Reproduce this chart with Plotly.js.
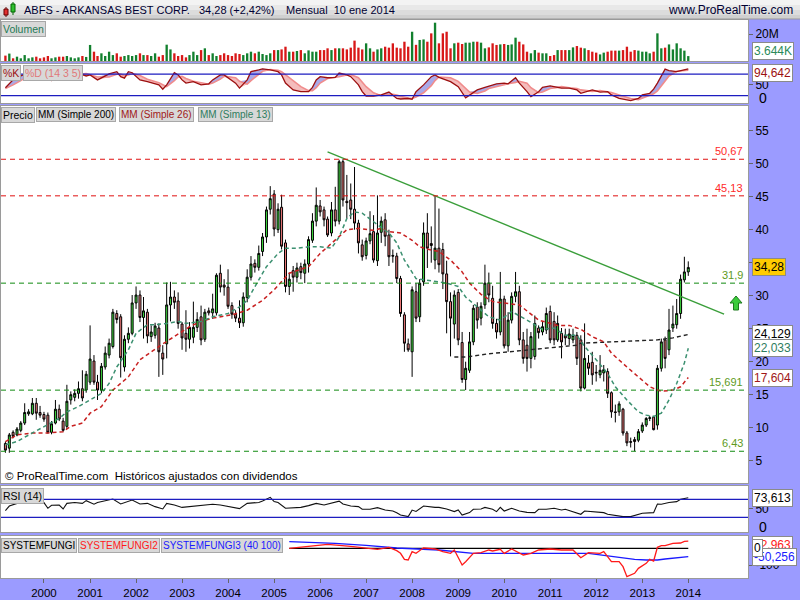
<!DOCTYPE html>
<html><head><meta charset="utf-8">
<script src="https://cdn.plot.ly/plotly-3.0.1.min.js"></script>
<style>html,body{margin:0;padding:0;background:#fff}#chart{width:800px;height:600px}</style>
</head><body><div id="chart"></div>
<script>
// ---------- DATA ----------
const firstYear = 1999, firstMonth = 3;   // first monthly bar: March 1999
const openP = [7.6,6.9,9.3,8.9,9.6,10.7,12.1,12.1,13.7,12.3,
12.0,11.9,9.3,10.7,12.8,11.0,10.2,14.2,14.6,15.2,15.9,15.7,
16.9,20.1,16.9,15.7,19.2,21.0,22.3,27.3,26.8,19.2,23.4,24.3,
28.9,30.1,26.7,27.5,23.8,24.0,25.1,21.3,22.7,28.6,29.8,29.2,
25.7,24.3,23.4,23.7,25.2,26.8,23.4,27.7,27.4,27.4,33.4,31.6,
31.3,28.5,27.2,26.6,25.9,29.7,32.8,34.9,34.3,36.7,38.9,43.1,
45.4,40.0,43.4,38.0,31.4,33.8,32.8,34.4,33.4,34.8,38.4,41.3,
43.6,43.0,41.6,39.5,43.0,41.3,50.3,44.3,44.5,43.1,41.0,37.7,
36.1,38.3,39.7,35.3,39.6,41.5,39.2,36.1,36.0,32.6,27.1,22.7,
21.5,30.6,26.8,32.1,39.5,37.9,35.4,37.2,37.0,33.3,29.1,25.7,
30.5,22.9,17.3,18.7,23.0,28.3,26.6,28.6,31.9,29.6,25.8,24.5,
29.5,22.4,26.3,29.9,30.6,23.3,22.5,20.5,20.8,25.1,24.5,24.8,
27.6,26.1,23.3,24.3,24.0,23.5,23.3,24.0,23.3,16.0,19.8,19.9,
18.4,18.0,18.3,18.5,15.3,12.4,12.4,12.8,9.2,7.9,8.2,8.1,
9.5,10.4,11.4,11.6,10.4,19.0,23.3,21.8,25.1,25.6,27.3,32.4,
33.6];
const highP = [7.9,9.2,9.6,10.1,11.0,13.7,12.8,14.5,14.5,13.3,
12.4,12.3,11.0,14.2,13.5,11.5,16.5,15.5,15.8,17.0,18.7,18.6,
25.5,21.0,18.0,19.8,22.3,23.5,28.0,27.8,27.2,24.0,25.2,30.1,
31.4,30.8,29.8,28.0,25.5,25.9,25.8,22.5,32.0,32.1,30.8,30.5,
26.0,27.8,26.0,29.1,27.5,28.5,28.0,28.2,30.3,33.4,34.7,32.5,
34.0,29.0,27.8,29.3,30.5,34.0,36.0,35.5,37.6,39.5,43.5,46.6,
46.0,44.0,45.3,38.5,33.5,34.5,35.0,35.0,35.5,39.0,42.5,46.4,
44.5,43.5,42.0,44.2,46.5,50.6,50.67,48.3,47.0,49.5,41.5,38.5,
38.8,42.8,42.2,45.2,42.0,42.5,40.0,37.0,36.5,33.0,27.5,23.5,
31.4,31.9,32.5,41.1,42.5,40.5,45.13,43.2,38.0,35.3,30.5,30.8,
31.0,24.5,20.0,24.5,28.6,29.0,29.0,34.7,33.5,31.5,26.5,33.6,
30.0,27.5,30.5,33.6,31.5,24.5,25.0,24.5,27.0,25.5,26.0,28.2,
28.5,27.5,27.0,25.1,25.0,25.0,25.0,24.5,24.0,25.8,21.0,21.5,
19.5,21.0,19.5,19.0,15.5,13.5,14.0,13.0,9.5,8.5,8.6,9.8,
10.8,11.6,11.8,11.8,19.5,23.5,23.8,28.0,28.5,29.5,33.2,35.9,
35.2];
const lowP = [6.2,6.2,8.4,8.7,9.3,10.4,11.8,11.9,11.2,11.5,
10.9,9.1,9.0,10.5,11.0,9.4,9.8,13.5,14.0,14.4,14.0,15.3,
16.5,16.5,14.2,15.2,18.8,20.5,22.0,25.8,17.6,18.5,22.8,24.0,
28.0,26.0,23.5,22.8,23.0,23.5,17.7,18.0,20.5,26.1,28.0,25.0,
21.8,21.5,22.0,22.8,24.5,22.5,23.0,27.0,26.5,27.0,30.5,30.0,
28.0,26.5,26.0,25.1,25.3,29.0,32.3,33.5,33.8,36.0,38.0,42.3,
39.0,39.5,37.0,30.5,30.1,30.6,32.0,32.5,31.9,33.5,38.0,40.5,
42.0,40.5,38.9,39.0,40.5,40.8,43.5,41.7,41.6,40.0,36.4,35.3,
35.5,37.8,35.0,34.5,38.0,37.5,34.5,35.0,31.9,26.8,21.5,21.5,
17.7,26.0,26.0,31.5,34.2,35.0,34.0,33.5,31.0,24.3,20.8,23.5,
22.5,16.8,15.7,18.3,22.5,25.0,25.5,28.0,29.0,25.0,23.5,24.0,
22.0,21.5,25.8,29.0,22.5,19.7,18.5,19.0,20.3,23.5,24.0,24.2,
22.8,22.5,23.0,20.5,22.5,22.5,22.8,19.5,15.5,15.8,18.0,16.5,
17.0,17.5,17.0,14.5,11.5,10.8,11.8,8.8,7.2,7.0,6.43,7.8,
9.2,10.1,11.0,9.6,9.7,18.5,19.0,21.0,24.5,25.0,26.5,32.0,
33.0];
const closeP = [6.6,8.9,8.7,9.8,10.7,12.3,12.4,13.7,12.2,11.9,
11.3,9.3,10.6,12.8,11.3,9.6,14.0,15.0,15.2,15.9,14.5,18.1,
20.4,16.9,15.7,19.3,21.3,22.8,27.5,26.4,20.6,23.4,24.3,28.9,
30.1,26.7,27.7,23.9,24.5,25.4,21.5,20.4,28.6,29.8,29.0,25.8,
23.6,23.4,25.2,25.2,26.4,23.3,27.5,27.4,28.0,33.1,31.3,31.3,
28.4,27.2,26.6,25.9,29.8,32.8,34.8,34.3,36.4,38.9,43.0,44.7,
40.1,43.1,37.5,31.4,32.5,32.8,34.2,33.5,34.8,38.5,41.3,43.7,
42.7,41.5,39.2,43.0,41.3,50.3,44.5,44.1,43.1,41.0,38.0,35.9,
38.3,39.4,35.4,39.5,41.3,39.0,35.9,36.0,32.6,27.3,22.8,21.8,
30.9,26.6,31.9,39.5,37.2,37.6,37.2,34.7,33.3,29.1,26.6,30.1,
23.3,17.3,19.0,23.0,28.1,26.3,28.4,31.9,30.1,25.8,24.5,29.5,
22.4,26.3,29.9,30.6,23.3,20.5,20.5,23.8,25.8,24.4,25.3,27.3,
23.3,23.3,25.8,23.0,23.6,24.2,24.0,20.5,16.0,20.5,19.0,18.0,
18.3,18.7,18.8,15.2,12.4,12.3,13.6,9.2,7.7,7.8,7.9,9.4,
10.4,11.4,11.5,9.7,19.0,23.0,20.5,24.8,25.7,27.3,32.5,33.6,
34.28];
// volume in millions
const volume = [4.0,5.5,2.0,3.2,2.0,4.4,2.0,2.7,3.2,2.0,
2.7,3.7,2.0,2.7,3.2,3.2,3.7,2.7,2.0,2.7,
3.7,3.0,11.9,6.9,3.7,5.7,3.7,6.9,4.4,5.7,
3.2,3.7,4.4,3.7,4.4,5.7,4.4,4.4,3.7,5.7,
3.2,4.4,12.1,8.6,5.7,3.7,4.4,2.7,4.4,6.9,
4.4,8.1,9.4,4.4,5.7,3.7,4.4,5.7,4.4,3.7,
5.7,5.2,4.4,5.7,6.9,5.7,6.9,5.2,4.4,5.7,
8.1,8.1,8.6,10.6,6.9,6.9,7.4,8.1,5.7,7.9,
6.9,6.9,8.1,8.1,9.4,8.1,9.4,9.4,9.4,8.6,
9.9,15.1,9.9,8.6,13.1,9.4,6.9,8.6,9.4,10.6,
9.9,13.1,9.9,9.4,
14.3,10.6,21.7,12.0,15.6,16.0,14.3,20.5,28.4,13.1,
20.5,21.7,9.4,13.1,13.6,12.6,13.6,13.6,14.3,14.3,
13.6,9.4,10.1,13.1,11.9,12.3,12.6,11.9,12.3,17.3,
14.3,12.3,6.9,5.7,8.1,6.2,5.7,5.7,3.7,4.4,
8.1,8.1,8.1,8.1,10.1,11.1,9.9,9.4,8.1,6.9,
6.2,4.9,6.2,6.9,7.7,7.7,7.7,8.1,10.6,6.9,
8.1,7.7,6.9,6.9,5.7,6.9,20.5,9.4,9.9,12.3,
8.6,13.1,9.4,7.7,3.644];

// indicator readings: bar index -> value
const stochIdx = [0,1,2,4,6,9,12,15,18,21,22,24,27,29,30,31,32,33,35,37,40,41,42,44,45,46,47,49,51,53,54,56,57,60,61,63,64,66,67,69,71,72,73,75,77,79,80,81,82,84,86,87,89,90,92,93,94,96,98,100,101,102,103,105,106,107,109,111,112,113,116,118,120,121,123,125,126,128,130,131,133,134,136,137,139,140,142,145,147,149,150,152,153,155,157,158,160,163,165,166,168,169,170,172,173,175,177,178];
const stochK = [42,52,64,75,84,80,62,72,86,75,78,64,81,87,73,69,87,84,64,59,50,38,50,84,78,64,55,59,50,53,64,78,78,55,41,64,87,92,95,92,87,78,55,36,31,31,43,64,73,70,71,83,78,73,50,31,19,19,22,30,22,12,10.6,12,10,31,50,73,78,71,59,45,14,22,36,43,47,53,55,53,70,55,31,17,31,43,47,41,41,36,26.5,33,36,30,31,22,12.5,6,12,22,26.5,38,55,94,90,87,92,94.642];
const stochD = [40,44,50,62,75,82,70,66,78,82,79,72,72,80,80,76,78,82,76,66,56,50,45,62,72,74,68,60,56,52,55,66,74,70,60,52,62,80,88,93,91,87,78,62,45,34,34,42,55,68,70,73,78,79,70,58,45,28,20,23,24,22,18,13,12,16,28,48,62,72,70,60,42,30,26,33,40,46,51,53,57,60,55,42,28,30,40,45,42,40,36,32,32,34,32,29,22,12,9,13,20,25,33,60,75,88,90,91];
const rsiIdx = [0,1,3,5,7,8,10,11,12,14,15,16,18,20,21,23,24,26,28,30,31,33,35,37,39,41,42,44,46,48,51,53,54,56,58,61,63,66,67,69,70,71,73,75,77,79,81,83,85,87,88,90,92,93,95,97,99,101,102,103,105,106,107,109,112,113,115,117,118,119,121,122,124,125,127,128,129,130,132,134,136,138,139,141,143,145,146,148,150,151,154,156,157,159,161,163,164,166,169,170,171,173,175,176,178];
const rsiVal = [45,55,61,65,67,64,62.6,50,56.7,57,48.5,61,63,61,67,59,63,66,70.7,59.6,62,68.5,59.6,61,53.7,48.5,61,57.4,52,53.7,55,58,59,57.4,53.7,49.3,61,63,66,74.4,65,63,50,51.5,52,56,61,57.4,61,66,59.6,55,53.7,47.8,47.8,51.5,46.3,44,40,35,31.5,46,43,55,52,52,48.5,42.6,46.3,35,40.4,47.8,48.5,52,47.8,42.6,52,44,50,44,41,40.4,47.8,47.8,50,46.3,47.8,42.6,36.7,44,42.6,40.4,36.7,34.4,31.5,31.5,33.7,38.9,40.4,59.6,59,63,64.8,70,73.613];
const ma13Idx = [0,3,7,11,14,16,19,22,25,27,29,32,34,37,39,42,45,47,51,54,58,61,63,66,68,71,73,76,79,82,85,87,89,91,93,96,100,102,104,107,109,112,115,118,120,123,126,129,132,136,138,140,143,146,149,151,154,157,159,162,165,167,169,171,173,175,177,178];
const ma13Val = [7.4,7.9,9.2,10.4,11.4,12.4,13.2,14.2,15.2,16.7,19.2,21.8,24.3,25.6,25.6,25.8,26.1,25.8,26.1,26.8,27.3,28.3,29.3,32.4,34.4,36.4,37.2,37.2,37.4,37.4,37.2,38.9,41.7,42.7,42.5,41.2,39.5,38.0,35.4,32.6,32.4,32.1,31.9,31.4,29.8,28.3,26.8,26.3,27.6,26.3,25.6,24.9,25.1,24.0,24.0,22.3,20.3,18.2,16.2,14.2,12.4,11.9,11.7,12.2,14.2,16.7,19.8,22.033];
const ma26Idx = [0,3,7,11,15,17,20,22,25,28,32,35,40,44,48,51,54,59,63,67,70,74,79,82,86,89,92,96,98,100,103,106,108,111,113,116,119,121,124,127,134,139,144,147,150,153,156,158,162,165,168,171,174,176,178];
const ma26Val = [7.9,8.9,9.2,9.2,9.4,10.2,10.7,12.2,13.2,15.7,17.7,20.3,22.3,23.8,25.3,26.1,26.6,27.1,27.8,29.3,30.9,33.4,34.4,36.4,38.4,40.0,40.2,39.9,40.2,39.7,39.5,38.4,37.4,36.9,36.7,35.4,33.6,31.9,30.2,29.1,28.6,26.3,25.5,25.5,24.9,23.8,23.0,21.3,19.2,17.7,16.2,15.5,15.7,16.2,17.604];
const ma200Idx = [117,120,126,135,146,149,150,160,170,174,178];
const ma200Val = [20.7,20.7,21.2,21.7,22.4,22.5,22.8,23.0,23.3,23.6,24.129];
const sfRedIdx = [74,77,80,84,90,94,97,100,102,103,104,105,106,107,109,112,114,116,117,119,120,122,124,126,127,129,130,132,135,137,139,142,145,148,150,152,155,156,158,160,161,162,164,165,167,168,169,170,171,172,174,176,177,178];
const sfRedVal = [0,8,18,24,12,2,-6,6,-14,-30,-66,-70,-20,-30,3,-4,-20,-30,-10,-100,-80,-30,-26,-10,-16,-6,-30,-4,-40,-30,-10,-4,-10,-10,-56,-26,-30,-20,-80,-80,-110,-170,-150,-120,-90,-66,-76,6,16,16,30,32,42,42.963];
const sfBlueIdx = [74,86,94,102,113,118,122,152,155,160,164,167,170,172,176,178];
const sfBlueVal = [40,30,18,2,-10,-20,-30,-30,-40,-54,-66,-70,-70,-64,-56,-50.256];
const sfBlackIdx = [74,178];
const sfBlackVal = [0,0];
const trendDates = ['2006-03-01','2014-10-12'];
const trendVals = [51.8,27.2];
const levels = [50.67,45.13,31.9,15.691,6.43];
const levelText = ['50,67','45,13','31,9','15,691','6,43'];
const levelKind = ['res','res','sup','sup','sup'];
const yearTicks = ['2000','2001','2002','2003','2004','2005','2006','2007','2008','2009','2010','2011','2012','2013','2014'];
const priceTicks = [5,10,15,20,25,30,35,40,45,50,55];

// ---------- helpers ----------
const months = closeP.map((_, k) => {
  const m = firstMonth - 1 + k;
  const y = firstYear + Math.floor(m / 12);
  return y + '-' + String(m % 12 + 1).padStart(2, '0') + '-01';
});
const at = idx => idx.map(i => months[i]);
const W = 800, H = 600;
const px = x => x / W, py = y => 1 - y / H;
const fmt = (v, d) => v.toFixed(d).replace('.', ',');
const FONT = 'Liberation Sans, Arial, sans-serif';
const GREEN_UP = '#3fdc3f', RED_DN = '#f07a7a';
const up = closeP.map((c, i) => c >= openP[i]);

const traces = [];
// volume
traces.push({type:'bar', x: months, y: volume, xaxis:'x', yaxis:'y', width: 1.6e9,
  marker:{color: up.map(u => u ? '#12802e' : '#d81818'), line:{width:0}}, hoverinfo:'skip'});
// stochastic with two-colour fill between %K and %D
const stX = at(stochIdx);
const kHi = stochK.map((k, i) => Math.max(k, stochD[i]));
const kLo = stochK.map((k, i) => Math.min(k, stochD[i]));
traces.push({type:'scatter', mode:'lines', x: stX, y: stochD, xaxis:'x2', yaxis:'y2', line:{width:0}, hoverinfo:'skip'});
traces.push({type:'scatter', mode:'lines', x: stX, y: kHi, xaxis:'x2', yaxis:'y2', line:{width:0}, fill:'tonexty', fillcolor:'rgba(140,140,225,0.75)', hoverinfo:'skip'});
traces.push({type:'scatter', mode:'lines', x: stX, y: stochD, xaxis:'x2', yaxis:'y2', line:{width:0}, hoverinfo:'skip'});
traces.push({type:'scatter', mode:'lines', x: stX, y: kLo, xaxis:'x2', yaxis:'y2', line:{width:0}, fill:'tonexty', fillcolor:'rgba(240,165,165,0.75)', hoverinfo:'skip'});
traces.push({type:'scatter', mode:'lines', x: stX, y: stochD, xaxis:'x2', yaxis:'y2', line:{color:'#f08c8c', width:1.6}, hoverinfo:'skip'});
traces.push({type:'scatter', mode:'lines', x: stX, y: stochK, xaxis:'x2', yaxis:'y2', line:{color:'#9c1010', width:1.3}, hoverinfo:'skip'});
// price
traces.push({type:'candlestick', x: months, open: openP, high: highP, low: lowP, close: closeP,
  xaxis:'x3', yaxis:'y3', whiskerwidth:0,
  increasing:{line:{color:'#000', width:1}, fillcolor: GREEN_UP},
  decreasing:{line:{color:'#000', width:1}, fillcolor: RED_DN}, hoverinfo:'skip'});
traces.push({type:'scatter', mode:'lines', x: at(ma200Idx), y: ma200Val, xaxis:'x3', yaxis:'y3', line:{color:'#222', width:1.4, dash:'4px,3px'}, hoverinfo:'skip'});
traces.push({type:'scatter', mode:'lines', x: at(ma26Idx), y: ma26Val, xaxis:'x3', yaxis:'y3', line:{color:'#c82020', width:1.5, dash:'4px,3px'}, hoverinfo:'skip'});
traces.push({type:'scatter', mode:'lines', x: at(ma13Idx), y: ma13Val, xaxis:'x3', yaxis:'y3', line:{color:'#3b9070', width:1.5, dash:'4px,3px'}, hoverinfo:'skip'});
traces.push({type:'scatter', mode:'lines', x: trendDates, y: trendVals, xaxis:'x3', yaxis:'y3', line:{color:'#3a9e3a', width:1.4}, hoverinfo:'skip'});
// RSI
traces.push({type:'scatter', mode:'lines', x: at(rsiIdx), y: rsiVal, xaxis:'x4', yaxis:'y4', line:{color:'#111', width:1.1}, hoverinfo:'skip'});
// SYSTEMFUNGI
traces.push({type:'scatter', mode:'lines', x: at(sfBlackIdx), y: sfBlackVal, xaxis:'x5', yaxis:'y5', line:{color:'#000', width:1.3}, hoverinfo:'skip'});
traces.push({type:'scatter', mode:'lines', x: at(sfBlueIdx), y: sfBlueVal, xaxis:'x5', yaxis:'y5', line:{color:'#1a1aff', width:1.3}, hoverinfo:'skip'});
traces.push({type:'scatter', mode:'lines', x: at(sfRedIdx), y: sfRedVal, xaxis:'x5', yaxis:'y5', line:{color:'#ff1a1a', width:1.3}, hoverinfo:'skip'});

// ---------- layout ----------
const xRange = ['1999-01-25', '2015-04-20'];
const xDom = [px(1), px(748)];
const baseX = (anchor, extra) => Object.assign({type:'date', domain: xDom, range: xRange, anchor,
  showgrid:false, zeroline:false, showline:true, mirror:true, linecolor:'#9a9a9a', linewidth:1,
  showticklabels:false, ticks:''}, extra || {});
const baseY = (anchor, dom, range, tickvals, ticktext) => ({domain: dom, range, anchor, side:'right',
  showgrid:false, zeroline:false, showline:true, mirror:true, linecolor:'#9a9a9a', linewidth:1,
  tickvals, ticktext, ticks:'outside', ticklen:4, tickcolor:'#666',
  tickfont:{family: FONT, size:12, color:'#000'}});

const shapes = [];
// header gradient
const hdr = ['#f3f3f3','#e8e8e8','#dcdcdc','#d0d0d0'];
hdr.forEach((c, k) => shapes.push({type:'rect', xref:'paper', yref:'paper', x0:0, x1:1, y0:py(k*5), y1:py(Math.min(19,(k+1)*5)), fillcolor:c, line:{width:0}}));
shapes.push({type:'line', xref:'paper', yref:'paper', x0:0, x1:1, y0:py(19), y1:py(19), line:{color:'#999', width:1}});
// header candle icon
shapes.push({type:'line', xref:'paper', yref:'paper', x0:px(6), x1:px(6), y0:py(7), y1:py(17), line:{color:'#600', width:1}});
shapes.push({type:'rect', xref:'paper', yref:'paper', x0:px(4), x1:px(8), y0:py(9), y1:py(15), fillcolor:'#e03030', line:{color:'#600', width:1}});
shapes.push({type:'line', xref:'paper', yref:'paper', x0:px(13), x1:px(13), y0:py(2), y1:py(15), line:{color:'#060', width:1}});
shapes.push({type:'rect', xref:'paper', yref:'paper', x0:px(11), x1:px(15), y0:py(4), y1:py(12), fillcolor:'#30c030', line:{color:'#060', width:1}});
// support / resistance levels
levels.forEach((lv, i) => shapes.push({type:'line', xref:'x3 domain', yref:'y3', x0:0, x1:1, y0:lv, y1:lv,
  line:{color: levelKind[i] === 'res' ? '#e01010' : '#108a10', width:1, dash:'5px,4px'}}));
// oscillator bands
[80, 20].forEach(v => shapes.push({type:'line', xref:'x2 domain', yref:'y2', x0:0, x1:1, y0:v, y1:v, line:{color:'#1c1cc0', width:1.2}}));
[70, 30].forEach(v => shapes.push({type:'line', xref:'x4 domain', yref:'y4', x0:0, x1:1, y0:v, y1:v, line:{color:'#1c1cc0', width:1.2}}));
// green up arrow
const arrowPts = [[736,296],[730,303],[733.5,303],[733.5,310],[738.5,310],[738.5,303],[742,303]];
shapes.push({type:'path', xref:'paper', yref:'paper',
  path: 'M ' + arrowPts.map(p => px(p[0]) + ' ' + py(p[1])).join(' L ') + ' Z',
  fillcolor:'#3ccc3c', line:{color:'#1f7a1f', width:1}});

const ann = [];
const txt = (text, x, y, o) => ann.push(Object.assign({text, x: px(x), y: py(y), xref:'paper', yref:'paper',
  showarrow:false, xanchor:'left', yanchor:'middle', font:{family: FONT, size:11, color:'#000'}}, o || {}));
// header texts
txt('ABFS - ARKANSAS BEST CORP.', 22, 10, {font:{family:FONT, size:11, color:'#000033'}});
txt(fmt(closeP[closeP.length-1], 2) + ' (+2,42%)', 197, 10, {font:{family:FONT, size:11, color:'#000033'}});
txt('Mensual  10 ene 2014', 284, 10, {font:{family:FONT, size:11, color:'#000033'}});
txt('www.ProRealTime.com', 795, 10, {xanchor:'right', font:{family:FONT, size:12, color:'#000033'}});
// panel label boxes
const lab = (text, x, y, size, color) => txt(text, x, y, {yanchor:'top',
  bgcolor:'#d8d8d8', bordercolor:'#a8a8a8', borderwidth:1, borderpad:1, font:{family:FONT, size, color}});
lab('Volumen', 1, 21, 10.5, '#1f7a55');
lab('%K', 1, 65, 10.5, '#9c1010');
lab('%D (14 3 5)', 23, 65, 10.5, '#e07878');
lab('Precio', 1, 107, 10.5, '#000');
lab('MM (Simple 200)', 36, 107, 10, '#000');
lab('MM (Simple 26)', 119, 107, 10, '#a01818');
lab('MM (Simple 13)', 198, 107, 10, '#2e7d5e');
lab('RSI (14)', 1, 488, 10.5, '#000');
lab('SYSTEMFUNGI', 1, 538, 10, '#000');
lab('SYSTEMFUNGI2', 78, 538, 10, '#ff1a1a');
lab('SYSTEMFUNGI3 (40 100)', 161, 538, 10, '#1a1aff');
txt('© ProRealTime.com  Históricos ajustados con dividendos', 3, 476, {font:{family:FONT, size:11.5, color:'#000'}});
// level labels
levels.forEach((lv, i) => ann.push({text: levelText[i], xref:'paper', x: px(745), xanchor:'right',
  yref:'y3', y: lv, yanchor:'bottom', showarrow:false,
  font:{family:FONT, size:11, color: levelKind[i] === 'res' ? '#ff2a2a' : '#5e9a22'}}));
// right-hand value boxes
const vbox = (text, y, color, bg, yref) => ann.push({text, xref:'paper', x: px(752), xanchor:'left',
  yref: yref || 'paper', y, yanchor:'middle', showarrow:false, bgcolor: bg || '#fff', bordercolor:'#8a8a8a',
  borderwidth:1, borderpad:1, font:{family:FONT, size:12, color}});
vbox(fmt(volume[volume.length-1], 3).replace(',', '.') + 'K', py(51), '#2a8a5a');
vbox(fmt(stochK[stochK.length-1], 3), py(73), '#9c1010');
txt('0', 757, 98, {font:{family:FONT, size:14, color:'#000'}});
vbox(fmt(closeP[closeP.length-1], 2), closeP[closeP.length-1], '#000', '#ffcc00', 'y3');
vbox(fmt(ma200Val[ma200Val.length-1], 3), ma200Val[ma200Val.length-1], '#000', '#fff', 'y3');
vbox(fmt(ma13Val[ma13Val.length-1], 3), ma13Val[ma13Val.length-1], '#2e7d5e', '#fff', 'y3');
vbox(fmt(ma26Val[ma26Val.length-1], 3), ma26Val[ma26Val.length-1], '#a01818', '#fff', 'y3');
vbox(fmt(rsiVal[rsiVal.length-1], 3), rsiVal[rsiVal.length-1], '#000', '#fff', 'y4');
txt('0', 757, 527, {font:{family:FONT, size:14, color:'#000'}});
vbox(fmt(sfRedVal[sfRedVal.length-1], 3), py(545), '#ff1a1a');
vbox(fmt(sfBlueVal[sfBlueVal.length-1], 3), py(557), '#1a1aff');
ann.push({text:'0', xref:'paper', x: px(752), xanchor:'left', yref:'paper', y: py(548), yanchor:'middle',
  showarrow:false, bgcolor:'#fff', bordercolor:'#8a8a8a', borderwidth:1, borderpad:1, font:{family:FONT, size:12, color:'#000'}});

const layout = {
  width: W, height: H, margin:{l:0, r:0, t:0, b:0},
  paper_bgcolor:'#9b9bff', plot_bgcolor:'#ffffff', showlegend:false,
  boxgap: 0.2, bargap: 0.2,
  xaxis: baseX('y'),
  xaxis2: baseX('y2', {matches:'x'}),
  xaxis3: baseX('y3', {matches:'x', rangeslider:{visible:false}}),
  xaxis4: baseX('y4', {matches:'x'}),
  xaxis5: baseX('y5', {matches:'x', showticklabels:true, ticks:'outside', ticklen:4, tickcolor:'#666',
    tickvals: yearTicks.map(y => y + '-01-01'), ticktext: yearTicks,
    tickfont:{family:FONT, size:11.5, color:'#000'}}),
  yaxis: baseY('x', [py(61), py(20)], [0, 30.4], [20], ['20M']),
  yaxis2: baseY('x2', [py(103), py(64)], [-0.6, 108.4], [50], ['50']),
  yaxis3: baseY('x3', [py(483), py(106)], [1.62, 58.74], priceTicks, priceTicks.map(String)),
  yaxis4: baseY('x4', [py(532), py(486)], [-2.7, 99.6], [50], ['50']),
  yaxis5: baseY('x5', [py(578), py(536)], [-178, 74], [-100], ['-100']),
  shapes, annotations: ann
};
Plotly.newPlot('chart', traces, layout, {staticPlot:true, displayModeBar:false});
</script></body></html>
